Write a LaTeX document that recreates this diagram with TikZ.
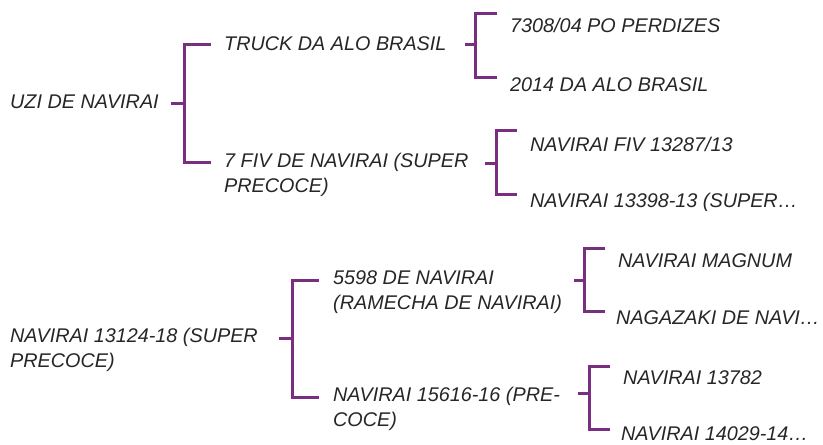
\documentclass[tikz,border=0pt]{standalone}
\usepackage{fontspec}
\setmainfont{Liberation Sans}
\begin{document}
\begin{tikzpicture}[x=1pt,y=-1pt,
  lbl/.style={anchor=west,inner sep=0pt,align=left,text=black!85,
    font=\fontsize{19.8}{25}\selectfont\itshape},
  brk/.style={draw=bracketpurple,line width=3pt,line cap=butt,line join=miter}]
\definecolor{bracketpurple}{HTML}{7A2E80}
\useasboundingbox (0,0) rectangle (823,445);
% ---- tree 1 ----
\node[lbl] (n1) at (10,102) {UZI DE NAVIRAI};
\node[lbl] (n2) at (224,44) {TRUCK DA ALO BRASIL};
\node[lbl] (n3) at (224,174.5) {7 FIV DE NAVIRAI (SUPER\\PRECOCE)};
\node[lbl] (n4) at (510,25) {7308/04 PO PERDIZES};
\node[lbl] (n5) at (510,85) {2014 DA ALO BRASIL};
\node[lbl] (n6) at (530,144) {NAVIRAI FIV 13287/13};
\node[lbl] (n7) at (530,202) {NAVIRAI 13398-13 (SUPER…};
% ---- tree 2 ----
\node[lbl] (m1) at (10,349.5) {NAVIRAI 13124-18 (SUPER\\PRECOCE)};
\node[lbl] (m2) at (333,292) {5598 DE NAVIRAI\\(RAMECHA DE NAVIRAI)};
\node[lbl] (m3) at (333,408.5) {NAVIRAI 15616-16 (PRE-\\COCE)};
\node[lbl] (m4) at (618,261) {NAVIRAI MAGNUM};
\node[lbl] (m5) at (616,318) {NAGAZAKI DE NAVI…};
\node[lbl] (m6) at (623,378) {NAVIRAI 13782};
\node[lbl] (m7) at (621,433.5) {NAVIRAI 14029-14…};
% ---- bracket coordinates ----
\coordinate (s1) at (171,103);  \coordinate (j1) at (184,103);
\coordinate (t1) at (211,44);   \coordinate (u1) at (211,162);
\coordinate (s2) at (465,44);   \coordinate (j2) at (475,44);
\coordinate (t2) at (497,13);   \coordinate (u2) at (497,77);
\coordinate (s3) at (485,163);  \coordinate (j3) at (496,163);
\coordinate (t3) at (517,130);  \coordinate (u3) at (517,194);
\coordinate (s4) at (279,338);  \coordinate (j4) at (292,338);
\coordinate (t4) at (319,280);  \coordinate (u4) at (319,397);
\coordinate (s5) at (574,280);  \coordinate (j5) at (584,280);
\coordinate (t5) at (605,248);  \coordinate (u5) at (605,311);
\coordinate (s6) at (578,393);  \coordinate (j6) at (589,393);
\coordinate (t6) at (610,366);  \coordinate (u6) at (610,429);
\foreach \i in {1,...,6}{
  \draw[brk] (s\i) -- (j\i);
  \draw[brk] (t\i) -| (j\i) |- (u\i);
}
\end{tikzpicture}
\end{document}
